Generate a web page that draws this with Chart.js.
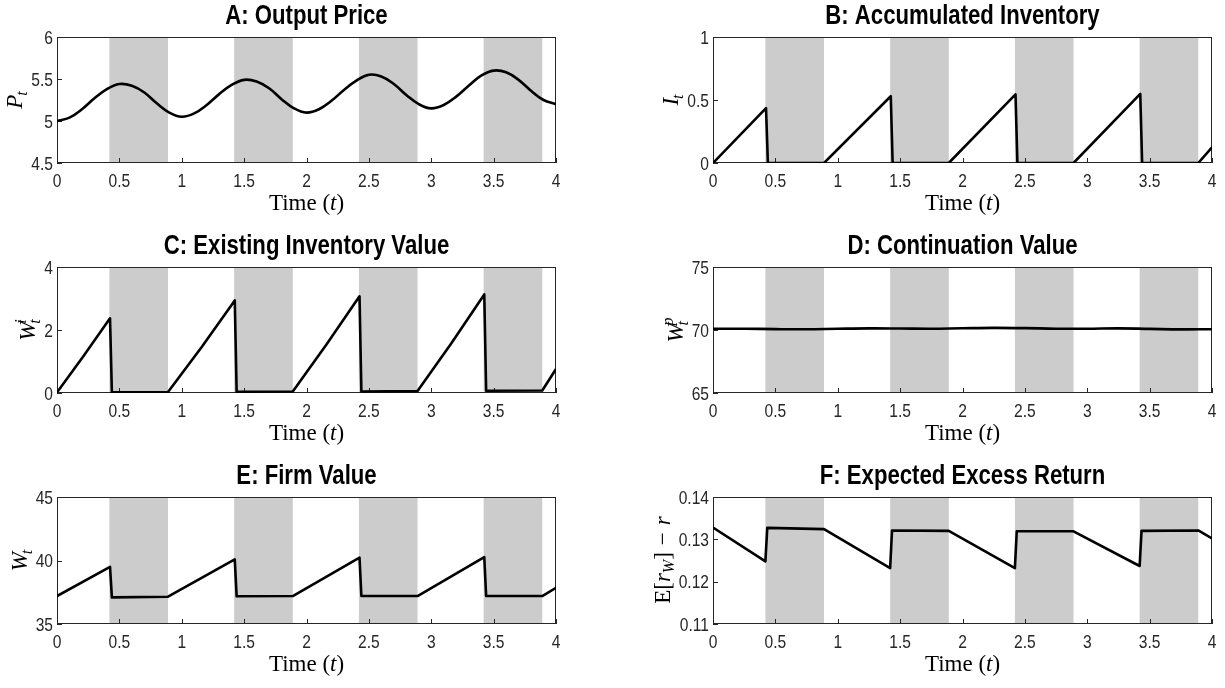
<!DOCTYPE html>
<html>
<head>
<meta charset="utf-8">
<script src="https://cdn.jsdelivr.net/npm/chart.js@4/dist/chart.umd.min.js"></script>
<style>
  html, body { margin: 0; padding: 0; background: #ffffff; overflow: hidden; }
  #fig { position: relative; width: 1225px; height: 688px; }
  #fig canvas { position: absolute; }
</style>
</head>
<body>
<div id="fig"></div>
<script>
// ---- shared axis data ----
const timeTicks = [0, 0.5, 1, 1.5, 2, 2.5, 3, 3.5, 4];
const shadeStart = [0.42, 1.42, 2.42, 3.42];
const shadeEnd = [0.89, 1.89, 2.89, 3.89];

// ---- A: output price ----
const priceTime = [0, 0.1, 0.2, 0.3, 0.4, 0.5, 0.6, 0.7, 0.8, 0.9, 1.0, 1.1, 1.2, 1.3, 1.4, 1.5, 1.6, 1.7, 1.8, 1.9, 2.0,
                   2.1, 2.2, 2.3, 2.4, 2.5, 2.6, 2.7, 2.8, 2.9, 3.0, 3.1, 3.2, 3.3, 3.4, 3.5, 3.6, 3.7, 3.8, 3.9, 4.0];
const priceValue = [5.00, 5.04, 5.14, 5.27, 5.38, 5.44, 5.42, 5.34, 5.21, 5.10, 5.05, 5.09, 5.19, 5.32, 5.43, 5.49, 5.47, 5.39, 5.26, 5.15, 5.10,
                    5.14, 5.24, 5.37, 5.48, 5.55, 5.53, 5.44, 5.31, 5.20, 5.15, 5.19, 5.29, 5.42, 5.54, 5.60, 5.58, 5.49, 5.36, 5.25, 5.20];
const priceTicks = [4.5, 5, 5.5, 6];

// ---- B: accumulated inventory ----
const invTime = [0, 0.425, 0.44, 0.89, 1.425, 1.44, 1.89, 2.425, 2.44, 2.89, 3.425, 3.44, 3.89, 4.0];
const invValue = [0, 0.435, 0, 0, 0.53, 0, 0, 0.545, 0, 0, 0.548, 0, 0, 0.125];
const invTicks = [0, 0.5, 1];

// ---- C: existing inventory value ----
const invValTime = [0, 0.21, 0.425, 0.44, 0.89, 1.16, 1.425, 1.44, 1.89, 2.16, 2.425, 2.44, 2.89, 3.16, 3.425, 3.44, 3.89, 4.0];
const invValValue = [0.02, 1.16, 2.37, 0.02, 0.03, 1.46, 2.94, 0.04, 0.05, 1.54, 3.07, 0.05, 0.06, 1.57, 3.13, 0.07, 0.08, 0.76];
const invValTicks = [0, 2, 4];

// ---- D: continuation value ----
const contTime = [0, 0.25, 0.5, 0.75, 1, 1.25, 1.5, 1.75, 2, 2.25, 2.5, 2.75, 3, 3.25, 3.5, 3.75, 4];
const contValue = [70.10, 70.10, 70.07, 70.06, 70.10, 70.13, 70.12, 70.10, 70.14, 70.17, 70.15, 70.10, 70.10, 70.13, 70.09, 70.05, 70.06];
const contTicks = [65, 70, 75];

// ---- E: firm value ----
const firmTime = [0, 0.425, 0.44, 0.89, 1.425, 1.44, 1.89, 2.425, 2.44, 2.89, 3.425, 3.44, 3.89, 4.0];
const firmValue = [37.2, 39.5, 37.1, 37.15, 40.08, 37.18, 37.2, 40.22, 37.2, 37.2, 40.27, 37.2, 37.2, 37.85];
const firmTicks = [35, 40, 45];

// ---- F: expected excess return ----
const retTime = [0, 0.42, 0.435, 0.89, 1.42, 1.435, 1.89, 2.42, 2.435, 2.89, 3.42, 3.435, 3.89, 4.0];
const retValue = [0.1328, 0.1248, 0.1327, 0.1324, 0.1232, 0.1321, 0.1320, 0.1232, 0.1319, 0.1319, 0.1237, 0.1320, 0.1321, 0.1302];
const retTicks = [0.11, 0.12, 0.13, 0.14];

// ---- styling ----
const SANS = '"Liberation Sans", Arial, Helvetica, sans-serif';
const SERIF = '"Liberation Serif", "DejaVu Serif", serif';
const AXIS_COLOR = '#262626';
const TICK_FONT = '19px ' + SANS;
const TITLE_FONT = 'bold 27px ' + SANS;
const NARROW = 0.82;          // horizontal squeeze giving a narrow Helvetica look
const XAXIS_H = 50;

const M = 23, S = 16; // main / script sizes for math labels
const it = (text, size, dy, dx) => ({ text, italic: true, size, dy: dy || 0, dx: dx || 0 });
const rm = (text, size, dy, dx) => ({ text, italic: false, size, dy: dy || 0, dx: dx || 0 });
const gap = w => ({ text: '', italic: false, size: M, dy: 0, dx: w });

const timeLabel = [rm('Time (', M), it('t', M), rm(')', M)];

const panels = [
  { col: 0, row: 0, title: 'A: Output Price', t: priceTime, v: priceValue, ticks: priceTicks, smooth: true,
    ylabel: [it('P', M), it('t', S, 5, -1)] },
  { col: 1, row: 0, title: 'B: Accumulated Inventory', t: invTime, v: invValue, ticks: invTicks, smooth: false,
    ylabel: [it('I', M), it('t', S, 5, -1)] },
  { col: 0, row: 1, title: 'C: Existing Inventory Value', t: invValTime, v: invValValue, ticks: invValTicks, smooth: false,
    ylabel: [it('W', M), { stack: [it('i', S, -9), it('t', S, 5)], dx: -2 }] },
  { col: 1, row: 1, title: 'D: Continuation Value', t: contTime, v: contValue, ticks: contTicks, smooth: true,
    ylabel: [it('W', M), { stack: [it('p', S, -10), it('t', S, 5)], dx: -2 }] },
  { col: 0, row: 2, title: 'E: Firm Value', t: firmTime, v: firmValue, ticks: firmTicks, smooth: false,
    ylabel: [it('W', M), it('t', S, 5, -2)] },
  { col: 1, row: 2, title: 'F: Expected Excess Return', t: retTime, v: retValue, ticks: retTicks, smooth: false,
    ylabel: [rm('E', M, 0, 1), rm('[', M), it('r', M), it('W', S, 4), rm(']', M), gap(7), rm('\u2212', M), gap(7), it('r', M)] }
];

const columns = [
  { left: 0, width: 612, plotLeft: 57, plotRight: 556 },
  { left: 612, width: 613, plotLeft: 101, plotRight: 600 }
];
const rows = [
  { top: 0, height: 228, plotTop: 37, plotBottom: 163 },
  { top: 230, height: 228, plotTop: 37, plotBottom: 163 },
  { top: 460, height: 228, plotTop: 37, plotBottom: 164 }
];

// draws a sequence of text runs (with sub/superscripts), optionally rotated
function drawRich(ctx, parts, x, y, rotate) {
  const fontOf = p => (p.italic ? 'italic ' : '') + p.size + 'px ' + SERIF;
  ctx.save();
  ctx.translate(x, y);
  if (rotate) ctx.rotate(-Math.PI / 2);
  const widths = parts.map(p => {
    let w = 0;
    if (p.stack) {
      p.stack.forEach(q => { ctx.font = fontOf(q); w = Math.max(w, ctx.measureText(q.text).width); });
    } else {
      ctx.font = fontOf(p); w = ctx.measureText(p.text).width;
    }
    return w + (p.dx || 0);
  });
  const total = widths.reduce((a, b) => a + b, 0);
  let cx = -total / 2;
  ctx.fillStyle = '#000000';
  ctx.textAlign = 'left';
  ctx.textBaseline = 'alphabetic';
  parts.forEach((p, i) => {
    const off = p.dx || 0;
    if (p.stack) {
      p.stack.forEach(q => { ctx.font = fontOf(q); ctx.fillText(q.text, cx + off, q.dy); });
    } else if (p.text) {
      ctx.font = fontOf(p); ctx.fillText(p.text, cx + off, p.dy);
    }
    cx += widths[i];
  });
  ctx.restore();
}

// horizontally squeezed sans text
function drawNarrow(ctx, text, x, y, align, font, color) {
  ctx.save();
  ctx.translate(x, y);
  ctx.scale(NARROW, 1);
  ctx.font = font;
  ctx.fillStyle = color;
  ctx.textAlign = align;
  ctx.textBaseline = 'alphabetic';
  ctx.fillText(text, 0, 0);
  ctx.restore();
}

const framePlugin = {
  id: 'frame',
  beforeDatasetsDraw(chart) {
    const { ctx, chartArea: a, scales: { x, y } } = chart;
    ctx.save();
    // shaded periods
    ctx.fillStyle = '#cccccc';
    shadeStart.forEach((s, i) => {
      const x0 = x.getPixelForValue(s);
      const x1 = x.getPixelForValue(shadeEnd[i]);
      ctx.fillRect(x0, a.top, x1 - x0, a.bottom - a.top);
    });
    // inward tick marks
    ctx.strokeStyle = AXIS_COLOR;
    ctx.lineWidth = 1;
    ctx.beginPath();
    x.ticks.forEach(t => {
      const px = Math.round(x.getPixelForValue(t.value)) + 0.5;
      ctx.moveTo(px, a.bottom); ctx.lineTo(px, a.bottom - 5);
    });
    y.ticks.forEach(t => {
      const py = Math.round(y.getPixelForValue(t.value)) + 0.5;
      ctx.moveTo(a.left, py); ctx.lineTo(a.left + 5, py);
    });
    ctx.stroke();
    // axes box
    ctx.strokeRect(a.left + 0.5, a.top + 0.5, a.right - a.left - 1, a.bottom - a.top - 1);
    ctx.restore();
  },
  afterDraw(chart) {
    const { ctx, chartArea: a, scales: { x, y } } = chart;
    const cfg = chart.options.plugins.frame;
    const midX = (a.left + a.right) / 2;
    // title
    drawNarrow(ctx, cfg.title, midX, a.top - 13, 'center', TITLE_FONT, '#000000');
    // tick labels from the scales
    x.ticks.forEach(t => {
      drawNarrow(ctx, String(t.value), x.getPixelForValue(t.value), a.bottom + 24, 'center', TICK_FONT, AXIS_COLOR);
    });
    ctx.save();
    ctx.font = TICK_FONT;
    let tw = 0;
    y.ticks.forEach(t => { tw = Math.max(tw, ctx.measureText(String(t.value)).width * NARROW); });
    ctx.restore();
    y.ticks.forEach(t => {
      drawNarrow(ctx, String(t.value), a.left - 4, y.getPixelForValue(t.value) + 6.5, 'right', TICK_FONT, AXIS_COLOR);
    });
    // axis labels
    drawRich(ctx, timeLabel, midX, a.bottom + 47, false);
    drawRich(ctx, cfg.ylabel, a.left - 4 - tw - 9, (a.top + a.bottom) / 2, true);
  }
};

const fig = document.getElementById('fig');
panels.forEach(p => {
  const c = columns[p.col], r = rows[p.row];
  const canvas = document.createElement('canvas');
  canvas.width = c.width; canvas.height = r.height;
  canvas.style.left = c.left + 'px'; canvas.style.top = r.top + 'px';
  canvas.style.width = c.width + 'px'; canvas.style.height = r.height + 'px';
  fig.appendChild(canvas);

  new Chart(canvas, {
    type: 'line',
    data: {
      datasets: [{
        data: p.t.map((t, i) => ({ x: t, y: p.v[i] })),
        borderColor: '#000000',
        borderWidth: 2.6,
        pointRadius: 0,
        fill: false,
        tension: p.smooth ? 0.4 : 0,
        borderJoinStyle: 'round'
      }]
    },
    options: {
      responsive: false,
      animation: false,
      devicePixelRatio: 1,
      events: [],
      layout: { padding: { left: 0, right: c.width - c.plotRight, top: r.plotTop, bottom: r.height - r.plotBottom - XAXIS_H } },
      plugins: {
        legend: { display: false },
        tooltip: { enabled: false },
        title: { display: false },
        frame: { title: p.title, ylabel: p.ylabel }
      },
      scales: {
        x: {
          type: 'linear', min: 0, max: 4,
          afterBuildTicks: s => { s.ticks = timeTicks.map(v => ({ value: v })); },
          afterFit: s => { s.height = XAXIS_H; s.paddingLeft = 0; s.paddingRight = 0; },
          grid: { display: false, drawTicks: false },
          border: { display: false },
          ticks: { display: false }
        },
        y: {
          type: 'linear', min: p.ticks[0], max: p.ticks[p.ticks.length - 1],
          afterBuildTicks: s => { s.ticks = p.ticks.map(v => ({ value: v })); },
          afterFit: s => { s.width = c.plotLeft; s.paddingTop = 0; s.paddingBottom = 0; },
          grid: { display: false, drawTicks: false },
          border: { display: false },
          ticks: { display: false }
        }
      }
    },
    plugins: [framePlugin]
  });
});
</script>
</body>
</html>
